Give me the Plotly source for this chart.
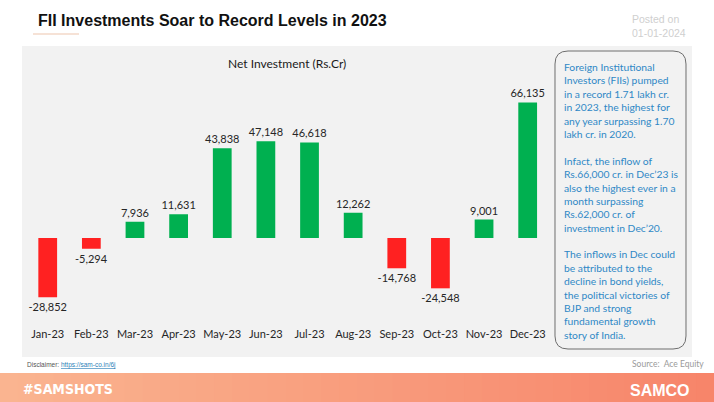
import plotly.graph_objects as go

W, H = 714, 402

months = ["Jan-23", "Feb-23", "Mar-23", "Apr-23", "May-23", "Jun-23",
          "Jul-23", "Aug-23", "Sep-23", "Oct-23", "Nov-23", "Dec-23"]
net_investment = [-28852, -5294, 7936, 11631, 43838, 47148,
                  46618, 12262, -14768, -24548, 9001, 66135]

title_text = "FII Investments Soar to Record Levels in 2023"
chart_title = "Net Investment (Rs.Cr)"
note_paragraphs = [
    ["Foreign Institutional", "Investors (FIIs) pumped", "in a record 1.71 lakh cr.",
     "in 2023, the highest for", "any year surpassing 1.70", "lakh cr. in 2020."],
    ["Infact, the inflow of", "Rs.66,000 cr. in Dec\u201923 is", "also the highest ever in a",
     "month surpassing", "Rs.62,000 cr. of", "investment in Dec\u201920."],
    ["The inflows in Dec could", "be attributed to the", "decline in bond yields,",
     "the political victories of", "BJP and strong", "fundamental growth", "story of India."],
]

GREEN = "#00B050"
RED = "#FF2121"


def px(x):
    return x / W


def py(y):
    return 1 - y / H


colors = [GREEN if v >= 0 else RED for v in net_investment]
labels = [f"{v:,}" for v in net_investment]

fig = go.Figure()
fig.add_trace(go.Bar(
    x=months, y=net_investment, marker=dict(color=colors, line=dict(width=0)),
    text=labels, textposition="outside", cliponaxis=False, constraintext="none",
    textfont=dict(family="Lato, Noto Sans, sans-serif", size=11, color="#262626"),
    hoverinfo="x+y",
))

shapes = []
# gray panel
shapes.append(dict(type="rect", xref="paper", yref="paper", x0=px(22), x1=px(692),
                   y0=py(357), y1=py(46), fillcolor="#F2F2F2", line=dict(width=0), layer="below"))
# title underline
shapes.append(dict(type="line", xref="paper", yref="paper", x0=px(33), x1=px(79),
                   y0=py(34), y1=py(34), line=dict(color="#F3D9C8", width=1.5)))
# footer gradient strips
c0 = (250, 180, 144)
c1 = (247, 133, 106)
N = 40
for i in range(N):
    t = i / (N - 1)
    c = tuple(round(a + (b - a) * t) for a, b in zip(c0, c1))
    shapes.append(dict(type="rect", xref="paper", yref="paper",
                       x0=i / N, x1=(i + 1) / N + 0.002, y0=0, y1=py(373),
                       fillcolor=f"rgb{c}", line=dict(width=0), layer="below"))

# rounded text box
x0b, x1b, y0b, y1b, r = 555, 686, 51, 349, 13
def P(x, y):
    return f"{px(x):.5f},{py(y):.5f}"
path = (f"M {P(x0b + r, y0b)} L {P(x1b - r, y0b)} Q {P(x1b, y0b)} {P(x1b, y0b + r)} "
        f"L {P(x1b, y1b - r)} Q {P(x1b, y1b)} {P(x1b - r, y1b)} "
        f"L {P(x0b + r, y1b)} Q {P(x0b, y1b)} {P(x0b, y1b - r)} "
        f"L {P(x0b, y0b + r)} Q {P(x0b, y0b)} {P(x0b + r, y0b)} Z")
shapes.append(dict(type="path", xref="paper", yref="paper", path=path,
                   fillcolor="rgba(0,0,0,0)", line=dict(color="#6E6E6E", width=1)))

annotations = []
annotations.append(dict(text=f"<b>{title_text}</b>", x=px(36), y=py(20), xref="paper", yref="paper",
                        xanchor="left", yanchor="middle", showarrow=False,
                        font=dict(family="Liberation Sans, Arial, sans-serif", size=16, color="#111111")))
annotations.append(dict(text="Posted on<br>01-01-2024", x=px(688), y=py(26), xref="paper", yref="paper",
                        xanchor="right", yanchor="middle", align="left", showarrow=False,
                        font=dict(family="Liberation Sans, Arial, sans-serif", size=10.5, color="#CFCFCF")))
annotations.append(dict(text=chart_title, x=px(287), y=py(63), xref="paper", yref="paper",
                        xanchor="center", yanchor="middle", showarrow=False,
                        font=dict(family="Lato, Noto Sans, sans-serif", size=12, color="#1A1A1A")))
note_text = "<br><br>".join("<br>".join(p) for p in note_paragraphs)
annotations.append(dict(text=note_text, x=px(562), y=py(59), xref="paper", yref="paper",
                        xanchor="left", yanchor="top", align="left", showarrow=False,
                        font=dict(family="Lato, Noto Sans, sans-serif", size=10.3, color="#2F88C6")))
annotations.append(dict(text='Disclaimer: <span style="color:#2E7FB8"><u>https://sam-co.in/6j</u></span>',
                        x=px(25), y=py(364.5), xref="paper", yref="paper",
                        xanchor="left", yanchor="middle", showarrow=False,
                        font=dict(family="Liberation Sans, Arial, sans-serif", size=6.5, color="#555555")))
annotations.append(dict(text="Source:  Ace Equity", x=px(706), y=py(364), xref="paper", yref="paper",
                        xanchor="right", yanchor="middle", showarrow=False,
                        font=dict(family="Lato, Noto Sans, sans-serif", size=8.5, color="#9A9A9A")))
annotations.append(dict(text="<b>#SAMSHOTS</b>", x=px(21), y=py(389), xref="paper", yref="paper",
                        xanchor="left", yanchor="middle", showarrow=False,
                        font=dict(family="Liberation Sans Narrow, DejaVu Sans Condensed, Liberation Sans, sans-serif",
                                  size=14, color="#FFFFFF")))
annotations.append(dict(text="<b>SAMCO</b>", x=px(692), y=py(390), xref="paper", yref="paper",
                        xanchor="right", yanchor="middle", showarrow=False,
                        font=dict(family="Liberation Sans, Arial, sans-serif", size=16, color="#FFFFFF")))

fig.update_layout(
    width=W, height=H, margin=dict(l=0, r=0, t=0, b=0),
    paper_bgcolor="#FFFFFF", plot_bgcolor="rgba(0,0,0,0)",
    showlegend=False, bargap=0.57,
    shapes=shapes, annotations=annotations,
    xaxis=dict(domain=[25.9 / W, 549.5 / W], showgrid=False, zeroline=False, showline=False,
               ticks="", tickfont=dict(family="Lato, Noto Sans, sans-serif", size=11, color="#262626")),
    yaxis=dict(domain=[py(326), py(80)], range=[-42927, 77073], visible=False,
               showgrid=False, zeroline=False),
)

fig.write_html("out.html", config={"displayModeBar": False},
               post_script="document.body.style.margin='0';document.body.style.overflow='hidden';")
